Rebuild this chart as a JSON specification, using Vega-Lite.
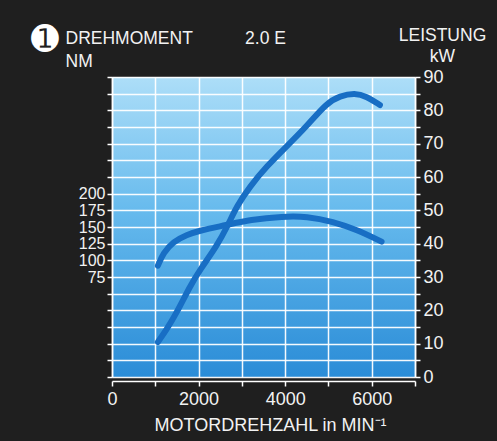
{
  "$schema": "https://vega.github.io/schema/vega-lite/v6.json",
  "width": 303,
  "height": 300,
  "autosize": {"type": "none"},
  "padding": {"left": 112, "top": 77, "right": 82, "bottom": 64},
  "background": "#1f1f1f",
  "datasets": {
    "torque": [
      {"rpm": 1060, "nm": 92},
      {"rpm": 1185, "nm": 111},
      {"rpm": 1416, "nm": 128},
      {"rpm": 1724, "nm": 138},
      {"rpm": 2032, "nm": 145},
      {"rpm": 2648, "nm": 153},
      {"rpm": 3187, "nm": 161},
      {"rpm": 3956, "nm": 166},
      {"rpm": 4497, "nm": 166},
      {"rpm": 5111, "nm": 158},
      {"rpm": 5650, "nm": 146},
      {"rpm": 6228, "nm": 128}
    ],
    "power": [
      {"rpm": 1060, "kw": 10.5},
      {"rpm": 1250, "kw": 14},
      {"rpm": 1493, "kw": 19.2},
      {"rpm": 1801, "kw": 27.2},
      {"rpm": 2032, "kw": 32.2},
      {"rpm": 2418, "kw": 39.2},
      {"rpm": 2686, "kw": 45.7},
      {"rpm": 2880, "kw": 51.2},
      {"rpm": 3187, "kw": 57.2},
      {"rpm": 3573, "kw": 63.2},
      {"rpm": 4035, "kw": 69.2},
      {"rpm": 4497, "kw": 75.2},
      {"rpm": 4958, "kw": 82.2},
      {"rpm": 5265, "kw": 84.3},
      {"rpm": 5612, "kw": 85.2},
      {"rpm": 5880, "kw": 84.2},
      {"rpm": 6189, "kw": 81.6}
    ]
  },
  "config": {
    "view": {
      "stroke": null,
      "fill": {
        "gradient": "linear", "x1": 0, "y1": 0, "x2": 0, "y2": 1,
        "stops": [
          {"offset": 0, "color": "#addef8"},
          {"offset": 0.45, "color": "#66baed"},
          {"offset": 1, "color": "#2a8cd7"}
        ]
      }
    },
    "font": "Liberation Sans",
    "axis": {
      "labelColor": "#f2f2f2",
      "titleColor": "#f2f2f2",
      "domainColor": "#ffffff",
      "tickColor": "#ffffff",
      "gridColor": "#ffffff",
      "gridWidth": 1.5,
      "gridOpacity": 0.95,
      "domainWidth": 1.5,
      "tickWidth": 1.5,
      "tickSize": 5,
      "labelFont": "Liberation Sans",
      "titleFont": "Liberation Sans",
      "titleFontWeight": "normal",
      "labelOverlap": false,
      "labelBound": false,
      "labelFlush": false
    },
    "title": {"color": "#ffffff"}
  },
  "title": {
    "text": "➊",
    "font": "DejaVu Sans",
    "fontSize": 33,
    "fontWeight": "normal",
    "anchor": "start",
    "frame": "group",
    "dx": -81,
    "dy": 35
  },
  "layer": [
    {
      "data": {"name": "torque"},
      "mark": {"type": "line", "interpolate": "basis", "strokeWidth": 6, "strokeCap": "round", "strokeJoin": "round", "color": "#186ec4"},
      "encoding": {
        "x": {
          "field": "rpm", "type": "quantitative",
          "scale": {"domain": [0, 7000], "nice": false, "zero": false},
          "axis": {
            "orient": "bottom",
            "offset": 4,
            "values": [0, 1000, 2000, 3000, 4000, 5000, 6000, 7000],
            "labelExpr": "datum.value % 2000 === 0 ? datum.label : ''",
            "format": "d",
            "grid": true,
            "labelFontSize": 18,
            "labelPadding": 4,
            "title": "MOTORDREHZAHL in MIN⁻¹",
            "titleFontSize": 18,
            "titleAlign": "center",
            "titleBaseline": "alphabetic",
            "titleX": 158,
            "titleY": 49
          }
        },
        "y": {
          "field": "nm", "type": "quantitative",
          "scale": {"domain": [-75, 375], "nice": false, "zero": false},
          "axis": {
            "orient": "left",
            "values": [-75, -50, -25, 0, 25, 50, 75, 100, 125, 150, 175, 200, 225, 250, 275, 300, 325, 350, 375],
            "labelExpr": "datum.value >= 75 && datum.value <= 200 ? datum.label : ''",
            "grid": false,
            "labelFontSize": 16,
            "labelPadding": 2,
            "labelBaseline": "middle",
            "title": ["DREHMOMENT", "NM"],
            "titleFontSize": 17.5,
            "titleLineHeight": 23,
            "titleAngle": 0,
            "titleAlign": "left",
            "titleBaseline": "alphabetic",
            "titleX": -47,
            "titleY": -34
          }
        }
      }
    },
    {
      "data": {"name": "power"},
      "mark": {"type": "line", "interpolate": "basis", "strokeWidth": 6, "strokeCap": "round", "strokeJoin": "round", "color": "#186ec4"},
      "encoding": {
        "x": {
          "field": "rpm", "type": "quantitative",
          "scale": {"domain": [0, 7000], "nice": false, "zero": false},
          "axis": {
            "orient": "top",
            "labels": false,
            "ticks": false,
            "domain": false,
            "grid": false,
            "title": "2.0 E",
            "titleFontSize": 17.5,
            "titleAlign": "center",
            "titleBaseline": "alphabetic",
            "titleX": 153,
            "titleY": -34
          }
        },
        "y": {
          "field": "kw", "type": "quantitative",
          "scale": {"domain": [0, 90], "nice": false, "zero": false},
          "axis": {
            "orient": "right",
            "values": [0, 5, 10, 15, 20, 25, 30, 35, 40, 45, 50, 55, 60, 65, 70, 75, 80, 85, 90],
            "labelExpr": "datum.value % 10 === 0 ? datum.label : ''",
            "grid": true,
            "labelFontSize": 18,
            "labelPadding": 3,
            "labelBaseline": "middle",
            "title": ["LEISTUNG", "kW"],
            "titleFontSize": 17.5,
            "titleLineHeight": 21,
            "titleAngle": 0,
            "titleAlign": "center",
            "titleBaseline": "alphabetic",
            "titleX": 27,
            "titleY": -37
          }
        }
      }
    }
  ],
  "resolve": {"scale": {"x": "independent", "y": "independent"}}
}
